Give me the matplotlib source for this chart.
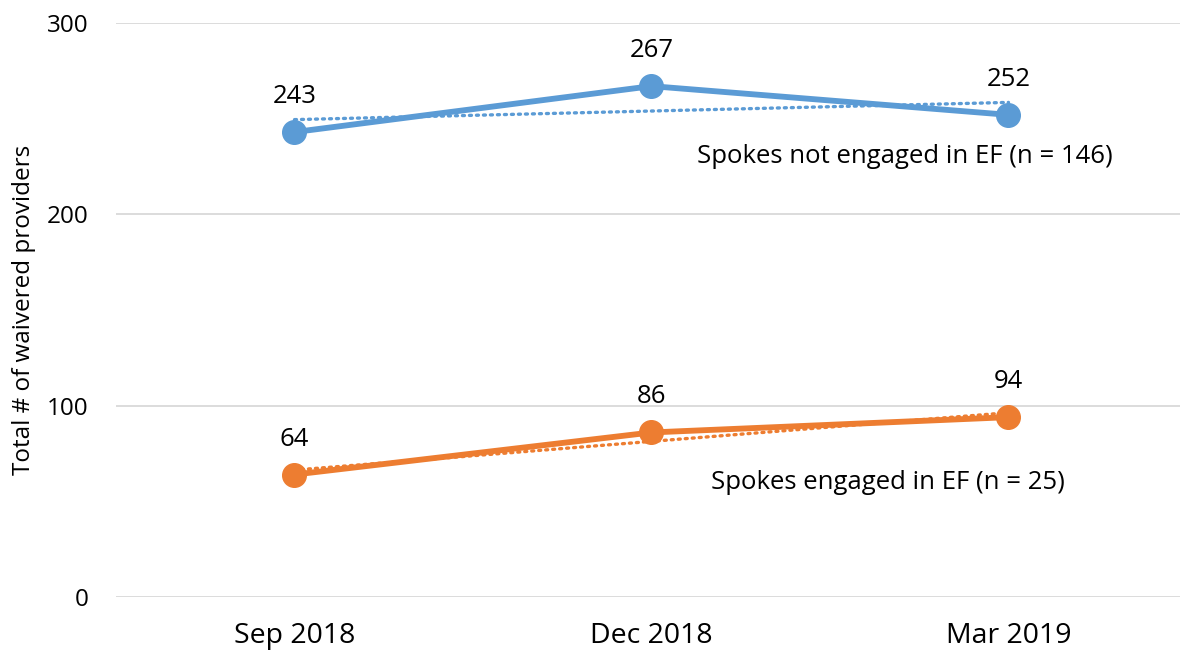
import numpy as np
import matplotlib.pyplot as plt

plt.rcParams['font.family'] = ['Open Sans', 'DejaVu Sans']

quarters = ["Sep 2018", "Dec 2018", "Mar 2019"]
not_engaged = [243, 267, 252]
engaged = [64, 86, 94]

BLUE = "#5B9BD5"
ORANGE = "#ED7D31"

fig = plt.figure(figsize=(11.8, 6.51), dpi=100)
ax = fig.add_axes([116 / 1180, 54 / 651, 1071 / 1180, 574 / 651])

x = np.arange(len(quarters)) + 0.5

for vals, color in [(not_engaged, BLUE), (engaged, ORANGE)]:
    ax.plot(x, vals, color=color, lw=4.2, marker="o", ms=17, zorder=3,
            solid_capstyle="round")
    # linear trendline
    slope, icpt = np.polyfit(x, vals, 1)
    ax.plot(x, slope * x + icpt, color=color, lw=2.4, ls=(0, (0.6, 1.5)),
            dash_capstyle="round", zorder=2)
    for xi, v in zip(x, vals):
        ax.text(xi, v + 12, str(v), ha="center", va="bottom", fontsize=18.5)

ax.text(2.793, 230, "Spokes not engaged in EF (n = 146)", ha="right",
        va="center", fontsize=18.5)
ax.text(2.658, 60, "Spokes engaged in EF (n = 25)", ha="right",
        va="center", fontsize=18.5)

ax.set_xlim(0, 3)
ax.set_ylim(0, 300)
ax.set_xticks(x)
ax.set_xticklabels(quarters, fontsize=20.5)
ax.set_yticks([0, 100, 200, 300])
ax.tick_params(axis="y", labelsize=17.5, length=0, pad=20)
ax.tick_params(axis="x", length=0, pad=18)
ax.grid(axis="y", color="#D9D9D9", lw=1.3)
ax.set_axisbelow(True)
for s in ax.spines.values():
    s.set_visible(False)
ax.set_ylabel("Total # of waivered providers", fontsize=17.5)
ax.yaxis.set_label_coords(-0.075, 0.5)

fig.savefig("out.png", dpi=100)
